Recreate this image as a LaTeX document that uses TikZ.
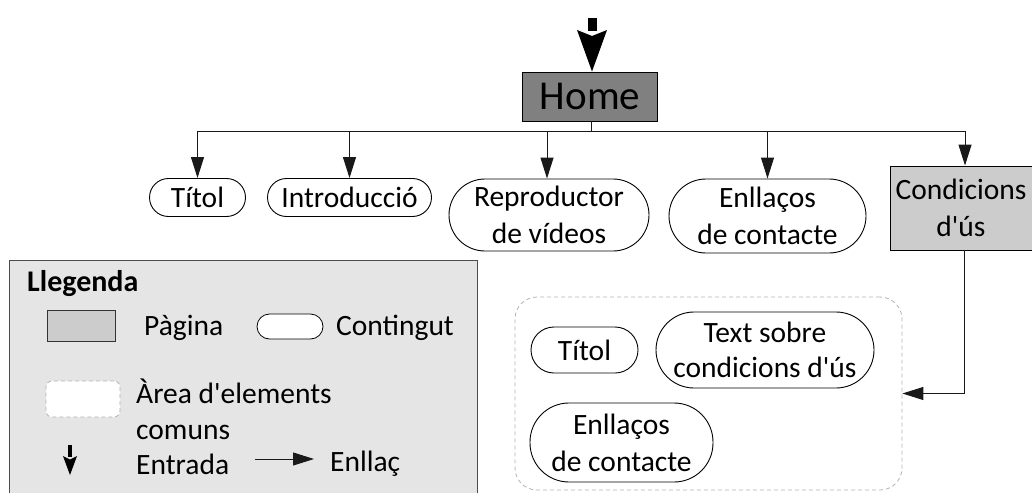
\documentclass[tikz,border=0pt]{standalone}
\usepackage{fontspec}
\setmainfont{Carlito}
\usetikzlibrary{arrows.meta}
\newcommand{\apos}{\textquotesingle}
\begin{document}
\begin{tikzpicture}[x=1pt,y=-1pt,
  txt/.style={font=\fontsize{29.5}{37}\selectfont},
  content/.style={draw=black, fill=white, line width=0.9pt, txt, align=center, inner sep=0pt},
  pagebox/.style={draw=black, fill=black!20, line width=0.9pt, txt, align=center, inner sep=0pt},
  wire/.style={draw=black!90, line width=1pt},
  link/.style={wire, -{Triangle[length=21pt,width=13pt]}},
  areabox/.style={draw=black!30, line width=0.8pt, dash pattern=on 4pt off 3pt, rounded corners=22pt, inner sep=0pt},
  lbl/.style={txt, anchor=west, inner sep=0pt}
]
\useasboundingbox (0,0) rectangle (1032,492);

% Home and entry
\node[draw=black, fill=black!50, line width=0.9pt, minimum width=135, minimum height=49, inner sep=0pt,
      font=\fontsize{41}{48}\selectfont] (home) at (590,96.5) {Home};
\coordinate (entry) at (592,18);
\coordinate (stubend) at (592,31);
\draw[line width=9pt] (entry) -- (stubend);
\fill (577,30) .. controls (584,33) .. (592,36) .. controls (600,33) .. (607,30) -- (home.north -| entry) -- cycle;

% top row
\node[content, minimum width=96, minimum height=38, rounded corners=19pt] (t1) at (197.5,197.5) {Títol};
\node[content, minimum width=164, minimum height=38, rounded corners=19pt] (t2) at (349.5,197.5) {Introducció};
\node[content, minimum width=200, minimum height=72, rounded corners=36pt] (t3) at (549,215) {Reproductor\\de vídeos};
\node[content, minimum width=197, minimum height=74, rounded corners=37pt] (t4) at (767.5,216) {Enllaços\\de contacte};
\node[pagebox, minimum width=142, minimum height=84] (cond) at (961,208) {Condicions\\d\apos ús};

% bus
\coordinate (bus) at (591,131);
\coordinate (busr) at ([xshift=4pt]cond.north |- bus);
\draw[wire] (home.south -| bus) -- (bus);
\draw[wire] (bus -| t1.north) -- (busr);
\draw[link] (bus -| t1.north) -- (t1.north);
\draw[link] (bus -| t2.north) -- (t2.north);
\draw[link] ([xshift=-2pt]bus -| t3.north) -- ([xshift=-2pt]t3.north);
\draw[link] (bus -| t4.north) -- (t4.north);
\draw[link] (busr) -- ([xshift=4pt]cond.north);

% common area
\node[areabox, minimum width=387, minimum height=193] (area) at (708.5,393.5) {};
\node[content, minimum width=107, minimum height=46, rounded corners=23pt] (i1) at (584.5,350) {Títol};
\node[content, minimum width=218, minimum height=76, rounded corners=38pt, font=\fontsize{29.5}{35}\selectfont] (i2) at (765,350) {Text sobre\\condicions d\apos ús};
\node[content, minimum width=183, minimum height=79, rounded corners=39pt] (i3) at (621.5,442.5) {Enllaços\\de contacte};
\draw[link] ([xshift=3pt]cond.south) |- (area.east);

% legend
\node[draw=black!70, fill=black!10, line width=0.9pt, minimum width=468, minimum height=240, anchor=north west, inner sep=0pt] (leg) at (9,260) {};
\node[lbl, font=\fontsize{30}{37}\selectfont\bfseries] (legt) at (27,284) {Llegenda};
\node[draw=black!80, fill=black!20, line width=0.8pt, minimum width=68, minimum height=31, inner sep=0pt] (lpage) at (81,325.5) {};
\node[lbl] (lpaget) at (144,328) {Pàgina};
\node[draw=black, fill=white, line width=0.8pt, minimum width=66, minimum height=25, rounded corners=12.5pt, inner sep=0pt] (lcont) at (290,326.5) {};
\node[lbl] (lcontt) at (336,328) {Contingut};
\node[areabox, fill=white, rounded corners=6pt, minimum width=74, minimum height=36] (larea) at (83,399) {};
\node[lbl, align=left, font=\fontsize{29.5}{36}\selectfont] (lareat) at (136,409) {Àrea d\apos elements\\comuns};
\coordinate (lentry) at (70,445);
\coordinate (lentryb) at (70,457);
\coordinate (lentrytip) at (70,475);
\draw[line width=3.5pt] (lentry) -- (lentryb);
\fill (63,456) -- (70,459.5) -- (77,456) -- (lentrytip) -- cycle;
\node[lbl] (lentryt) at (136,464) {Entrada};
\coordinate (llinka) at (255,459);
\coordinate (llinkb) at (314,459);
\draw[link] (llinka) -- (llinkb);
\node[lbl] (llinkt) at (330,464) {Enllaç};
\end{tikzpicture}
\end{document}
